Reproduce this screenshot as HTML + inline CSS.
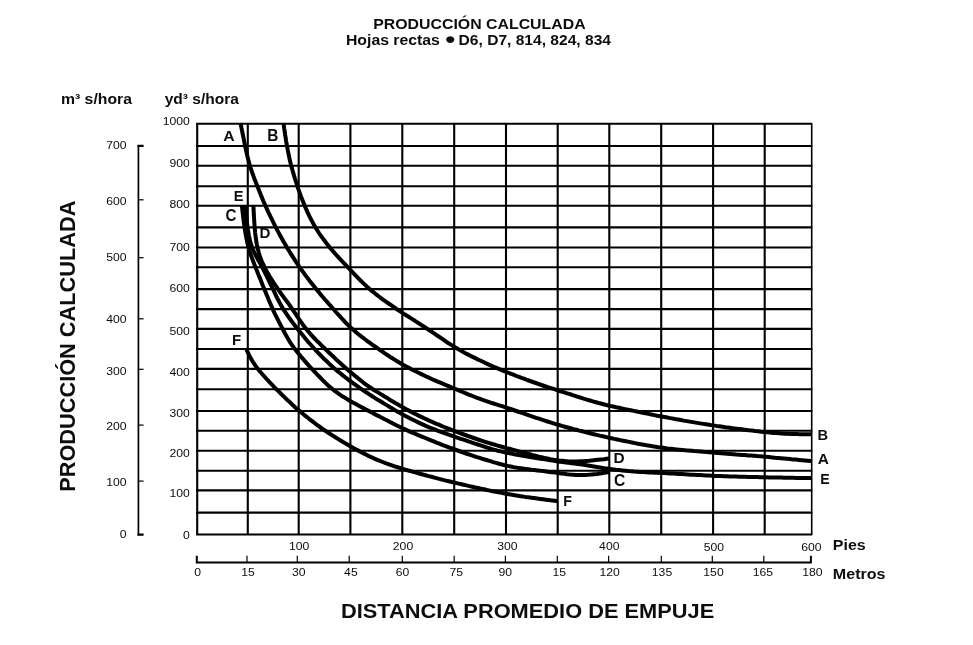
<!DOCTYPE html>
<html lang="es"><head><meta charset="utf-8"><title>Producción calculada</title>
<style>html,body{margin:0;padding:0;background:#fff}svg{display:block}</style></head>
<body>
<svg width="973" height="645" viewBox="0 0 973 645">
<rect width="973" height="645" fill="#fff"/>
<g stroke="#000" fill="none"><line x1="196.15" y1="123.70" x2="812.30" y2="123.70" stroke-width="2.10"/><line x1="196.15" y1="146.00" x2="812.30" y2="146.00" stroke-width="2.10"/><line x1="196.15" y1="165.70" x2="812.30" y2="165.70" stroke-width="2.10"/><line x1="196.15" y1="186.20" x2="812.30" y2="186.20" stroke-width="2.10"/><line x1="196.15" y1="205.70" x2="812.30" y2="205.70" stroke-width="2.10"/><line x1="196.15" y1="227.40" x2="812.30" y2="227.40" stroke-width="2.10"/><line x1="196.15" y1="247.50" x2="812.30" y2="247.50" stroke-width="2.10"/><line x1="196.15" y1="267.30" x2="812.30" y2="267.30" stroke-width="2.10"/><line x1="196.15" y1="289.10" x2="812.30" y2="289.10" stroke-width="2.10"/><line x1="196.15" y1="309.10" x2="812.30" y2="309.10" stroke-width="2.10"/><line x1="196.15" y1="328.90" x2="812.30" y2="328.90" stroke-width="2.10"/><line x1="196.15" y1="349.00" x2="812.30" y2="349.00" stroke-width="2.10"/><line x1="196.15" y1="368.90" x2="812.30" y2="368.90" stroke-width="2.10"/><line x1="196.15" y1="389.30" x2="812.30" y2="389.30" stroke-width="2.10"/><line x1="196.15" y1="411.00" x2="812.30" y2="411.00" stroke-width="2.10"/><line x1="196.15" y1="430.80" x2="812.30" y2="430.80" stroke-width="2.10"/><line x1="196.15" y1="450.70" x2="812.30" y2="450.70" stroke-width="2.10"/><line x1="196.15" y1="470.70" x2="812.30" y2="470.70" stroke-width="2.10"/><line x1="196.15" y1="490.40" x2="812.30" y2="490.40" stroke-width="2.10"/><line x1="196.15" y1="512.60" x2="812.30" y2="512.60" stroke-width="2.10"/><line x1="196.15" y1="534.50" x2="812.30" y2="534.50" stroke-width="2.10"/><line x1="197.20" y1="123.70" x2="197.20" y2="534.50" stroke-width="2.10"/><line x1="247.80" y1="123.70" x2="247.80" y2="534.50" stroke-width="2.10"/><line x1="298.70" y1="123.70" x2="298.70" y2="534.50" stroke-width="2.10"/><line x1="350.40" y1="123.70" x2="350.40" y2="534.50" stroke-width="2.10"/><line x1="402.30" y1="123.70" x2="402.30" y2="534.50" stroke-width="2.10"/><line x1="454.20" y1="123.70" x2="454.20" y2="534.50" stroke-width="2.10"/><line x1="506.00" y1="123.70" x2="506.00" y2="534.50" stroke-width="2.10"/><line x1="557.70" y1="123.70" x2="557.70" y2="534.50" stroke-width="2.10"/><line x1="609.30" y1="123.70" x2="609.30" y2="534.50" stroke-width="2.10"/><line x1="661.20" y1="123.70" x2="661.20" y2="534.50" stroke-width="2.10"/><line x1="713.10" y1="123.70" x2="713.10" y2="534.50" stroke-width="2.10"/><line x1="764.70" y1="123.70" x2="764.70" y2="534.50" stroke-width="2.10"/><line x1="811.70" y1="123.70" x2="811.70" y2="534.50" stroke-width="1.60"/></g>
<g stroke="#000" fill="none"><path d="M138.40 145 V535.6" stroke-width="1.7"/><path d="M137.55 145.9 H143.6 M137.55 534.6 H143.6" stroke-width="2.2"/><line x1="138.40" y1="199.80" x2="143.6" y2="199.80" stroke-width="1.2"/><line x1="138.40" y1="257.70" x2="143.6" y2="257.70" stroke-width="1.2"/><line x1="138.40" y1="318.80" x2="143.6" y2="318.80" stroke-width="1.2"/><line x1="138.40" y1="369.30" x2="143.6" y2="369.30" stroke-width="1.2"/><line x1="138.40" y1="425.10" x2="143.6" y2="425.10" stroke-width="1.2"/><line x1="138.40" y1="481.10" x2="143.6" y2="481.10" stroke-width="1.2"/></g>
<g stroke="#000" fill="none"><path d="M196.8 555.8 V562.40 H810.9 V555.8" stroke-width="2" stroke-linejoin="miter"/><line x1="247.00" y1="555.8" x2="247.00" y2="562.40" stroke-width="1.2"/><line x1="297.30" y1="555.8" x2="297.30" y2="562.40" stroke-width="1.2"/><line x1="349.20" y1="555.8" x2="349.20" y2="562.40" stroke-width="1.2"/><line x1="402.30" y1="555.8" x2="402.30" y2="562.40" stroke-width="1.2"/><line x1="454.20" y1="555.8" x2="454.20" y2="562.40" stroke-width="1.2"/><line x1="505.40" y1="555.8" x2="505.40" y2="562.40" stroke-width="1.2"/><line x1="557.30" y1="555.8" x2="557.30" y2="562.40" stroke-width="1.2"/><line x1="608.60" y1="555.8" x2="608.60" y2="562.40" stroke-width="1.2"/><line x1="661.30" y1="555.8" x2="661.30" y2="562.40" stroke-width="1.2"/><line x1="712.30" y1="555.8" x2="712.30" y2="562.40" stroke-width="1.2"/><line x1="763.80" y1="555.8" x2="763.80" y2="562.40" stroke-width="1.2"/></g>
<g stroke="#000" stroke-width="4.00" fill="none" stroke-linecap="butt" stroke-linejoin="round"><path d="M240.5 123.2 L241.1 126.1 L241.7 129.1 L242.3 132.0 L242.9 135.0 L243.5 137.9 L244.1 140.8 L244.7 143.8 L245.3 146.7 L245.9 149.6 L246.6 152.6 L247.2 155.5 L247.9 158.4 L248.7 161.3 L249.5 164.2 L250.3 167.1 L251.3 169.9 L252.2 172.8 L253.3 175.6 L254.3 178.4 L255.4 181.2 L256.5 184.0 L257.6 186.8 L258.7 189.6 L259.8 192.3 L260.9 195.1 L262.1 197.9 L263.2 200.7 L264.4 203.4 L265.6 206.2 L266.9 208.9 L268.1 211.6 L269.4 214.3 L270.7 217.0 L272.0 219.7 L273.3 222.4 L274.7 225.1 L276.1 227.8 L277.4 230.4 L278.9 233.1 L280.3 235.7 L281.7 238.3 L283.2 241.0 L284.7 243.6 L286.2 246.1 L287.7 248.7 L289.3 251.3 L290.9 253.8 L292.5 256.4 L294.1 258.9 L295.7 261.4 L297.4 263.9 L299.1 266.4 L300.8 268.8 L302.6 271.3 L304.3 273.7 L306.1 276.1 L307.9 278.5 L309.7 280.9 L311.6 283.3 L313.4 285.6 L315.3 288.0 L317.2 290.3 L319.1 292.6 L321.0 294.9 L323.0 297.2 L324.9 299.5 L326.9 301.7 L328.9 304.0 L330.9 306.2 L332.9 308.5 L334.9 310.7 L336.8 313.0 L338.8 315.2 L340.8 317.4 L342.9 319.6 L344.9 321.8 L347.0 324.0 L349.2 326.1 L351.3 328.1 L353.6 330.1 L355.8 332.1 L358.2 334.0 L360.5 335.8 L362.9 337.7 L365.3 339.5 L367.7 341.3 L370.1 343.0 L372.5 344.8 L375.0 346.5 L377.4 348.2 L379.9 350.0 L382.4 351.7 L384.8 353.4 L387.3 355.0 L389.8 356.7 L392.4 358.3 L394.9 359.9 L397.5 361.5 L400.0 363.0 L402.6 364.5 L405.2 366.0 L407.9 367.4 L410.5 368.8 L413.2 370.2 L415.9 371.5 L418.6 372.8 L421.3 374.1 L424.0 375.4 L426.7 376.7 L429.4 377.9 L432.2 379.2 L434.9 380.4 L437.7 381.6 L440.4 382.7 L443.2 383.9 L446.0 385.1 L448.7 386.2 L451.5 387.4 L454.3 388.5 L457.0 389.7 L459.8 390.8 L462.6 392.0 L465.3 393.1 L468.1 394.3 L470.9 395.4 L473.7 396.5 L476.5 397.6 L479.3 398.6 L482.1 399.7 L484.9 400.7 L487.8 401.6 L490.6 402.6 L493.5 403.5 L496.3 404.4 L499.2 405.3 L502.1 406.2 L504.9 407.2 L507.8 408.1 L510.6 409.0 L513.4 410.0 L516.3 411.0 L519.1 412.0 L522.0 412.9 L524.8 413.9 L527.6 414.9 L530.5 415.9 L533.3 416.8 L536.1 417.8 L539.0 418.7 L541.8 419.7 L544.7 420.6 L547.5 421.5 L550.4 422.4 L553.3 423.3 L556.1 424.2 L559.0 425.0 L561.9 425.9 L564.8 426.7 L567.7 427.5 L570.6 428.3 L573.5 429.1 L576.4 429.8 L579.3 430.6 L582.2 431.3 L585.1 432.1 L588.0 432.8 L590.9 433.5 L593.8 434.2 L596.7 434.9 L599.7 435.6 L602.6 436.2 L605.5 436.9 L608.4 437.6 L611.4 438.2 L614.3 438.9 L617.2 439.5 L620.2 440.1 L623.1 440.7 L626.0 441.3 L629.0 441.9 L631.9 442.5 L634.9 443.1 L637.8 443.7 L640.8 444.2 L643.7 444.7 L646.7 445.3 L649.6 445.8 L652.6 446.3 L655.6 446.7 L658.5 447.2 L661.5 447.6 L664.5 448.0 L667.4 448.4 L670.4 448.7 L673.4 449.1 L676.4 449.4 L679.4 449.7 L682.3 450.0 L685.3 450.3 L688.3 450.5 L691.3 450.8 L694.3 451.1 L697.3 451.3 L700.3 451.5 L703.3 451.8 L706.3 452.0 L709.2 452.3 L712.2 452.5 L715.2 452.8 L718.2 453.0 L721.2 453.3 L724.2 453.5 L727.2 453.8 L730.2 454.0 L733.2 454.2 L736.2 454.5 L739.2 454.7 L742.1 454.9 L745.1 455.1 L748.1 455.4 L751.1 455.6 L754.1 455.8 L757.1 456.1 L760.1 456.3 L763.1 456.6 L766.1 456.8 L769.1 457.1 L772.0 457.4 L775.0 457.7 L778.0 457.9 L781.0 458.2 L784.0 458.5 L787.0 458.8 L790.0 459.1 L792.9 459.4 L795.9 459.6 L798.9 459.9 L801.9 460.2 L804.9 460.5 L807.8 460.8 L810.8 461.1 L811.8 461.2"/><path d="M283.5 123.2 L283.9 126.2 L284.3 129.1 L284.8 132.1 L285.2 135.1 L285.7 138.0 L286.1 141.0 L286.6 144.0 L287.2 146.9 L287.7 149.9 L288.3 152.8 L288.9 155.7 L289.5 158.7 L290.2 161.6 L290.9 164.5 L291.7 167.4 L292.5 170.3 L293.3 173.2 L294.2 176.1 L295.0 178.9 L296.0 181.8 L296.9 184.6 L297.8 187.5 L298.8 190.3 L299.8 193.1 L300.8 196.0 L301.9 198.8 L303.0 201.6 L304.1 204.3 L305.3 207.1 L306.5 209.9 L307.7 212.6 L309.0 215.3 L310.3 218.0 L311.7 220.7 L313.1 223.3 L314.5 225.9 L316.1 228.5 L317.7 231.0 L319.3 233.5 L321.0 236.0 L322.8 238.4 L324.6 240.8 L326.4 243.2 L328.3 245.5 L330.2 247.9 L332.1 250.2 L334.1 252.4 L336.1 254.7 L338.1 256.9 L340.1 259.1 L342.2 261.3 L344.2 263.4 L346.3 265.6 L348.4 267.8 L350.4 270.0 L352.5 272.1 L354.6 274.3 L356.6 276.5 L358.7 278.6 L360.8 280.8 L363.0 282.9 L365.1 284.9 L367.3 287.0 L369.6 289.0 L371.8 290.9 L374.2 292.8 L376.5 294.7 L378.9 296.5 L381.3 298.3 L383.7 300.1 L386.2 301.8 L388.6 303.5 L391.1 305.2 L393.6 306.9 L396.0 308.6 L398.5 310.3 L401.0 311.9 L403.5 313.6 L406.1 315.2 L408.6 316.8 L411.1 318.4 L413.7 320.0 L416.2 321.6 L418.7 323.3 L421.2 324.9 L423.8 326.5 L426.3 328.1 L428.8 329.8 L431.3 331.5 L433.8 333.1 L436.2 334.8 L438.7 336.5 L441.2 338.2 L443.7 339.9 L446.1 341.6 L448.6 343.3 L451.2 344.9 L453.7 346.5 L456.3 348.0 L458.9 349.5 L461.5 351.0 L464.1 352.4 L466.8 353.9 L469.4 355.2 L472.1 356.6 L474.8 357.9 L477.5 359.3 L480.2 360.5 L482.9 361.8 L485.6 363.1 L488.3 364.3 L491.1 365.6 L493.8 366.8 L496.6 367.9 L499.3 369.1 L502.1 370.3 L504.9 371.4 L507.7 372.5 L510.5 373.6 L513.3 374.7 L516.1 375.8 L518.9 376.8 L521.7 377.9 L524.5 378.9 L527.3 380.0 L530.1 381.0 L532.9 382.0 L535.8 383.0 L538.6 384.0 L541.4 385.0 L544.3 386.0 L547.1 386.9 L550.0 387.8 L552.8 388.7 L555.7 389.6 L558.6 390.5 L561.4 391.5 L564.3 392.4 L567.1 393.3 L570.0 394.2 L572.8 395.2 L575.7 396.1 L578.5 397.0 L581.4 397.9 L584.3 398.8 L587.1 399.7 L590.0 400.5 L592.9 401.4 L595.8 402.2 L598.7 403.0 L601.6 403.7 L604.5 404.5 L607.4 405.2 L610.3 405.9 L613.2 406.5 L616.2 407.2 L619.1 407.8 L622.0 408.5 L625.0 409.1 L627.9 409.7 L630.8 410.3 L633.8 410.9 L636.7 411.5 L639.6 412.1 L642.6 412.7 L645.5 413.3 L648.5 413.9 L651.4 414.5 L654.4 415.1 L657.3 415.7 L660.2 416.2 L663.2 416.8 L666.1 417.3 L669.1 417.9 L672.0 418.4 L675.0 419.0 L677.9 419.5 L680.9 420.0 L683.8 420.6 L686.8 421.1 L689.8 421.6 L692.7 422.1 L695.7 422.6 L698.6 423.1 L701.6 423.6 L704.6 424.1 L707.5 424.5 L710.5 425.0 L713.4 425.4 L716.4 425.9 L719.4 426.3 L722.4 426.7 L725.3 427.2 L728.3 427.6 L731.3 428.0 L734.2 428.4 L737.2 428.8 L740.2 429.1 L743.2 429.5 L746.1 429.9 L749.1 430.3 L752.1 430.6 L755.1 431.0 L758.1 431.3 L761.0 431.7 L764.0 432.0 L767.0 432.3 L770.0 432.6 L773.0 432.9 L776.0 433.1 L779.0 433.3 L781.9 433.5 L784.9 433.7 L787.9 433.8 L790.9 434.0 L793.9 434.0 L796.9 434.1 L799.9 434.2 L802.9 434.2 L805.9 434.2 L808.8 434.2 L811.8 434.2"/><path d="M241.8 205.5 L242.2 208.5 L242.5 211.5 L242.9 214.4 L243.2 217.4 L243.6 220.4 L244.0 223.4 L244.4 226.3 L244.9 229.3 L245.3 232.3 L245.8 235.2 L246.4 238.2 L247.0 241.1 L247.6 244.0 L248.4 246.9 L249.2 249.8 L250.1 252.7 L251.0 255.5 L252.1 258.3 L253.1 261.1 L254.2 263.9 L255.3 266.7 L256.4 269.5 L257.5 272.3 L258.6 275.1 L259.8 277.9 L260.9 280.6 L262.0 283.4 L263.1 286.2 L264.3 289.0 L265.4 291.8 L266.5 294.5 L267.7 297.3 L268.8 300.1 L270.0 302.8 L271.2 305.6 L272.4 308.3 L273.6 311.1 L274.9 313.8 L276.2 316.5 L277.6 319.2 L278.9 321.8 L280.3 324.5 L281.7 327.2 L283.1 329.8 L284.5 332.5 L285.9 335.1 L287.4 337.7 L288.9 340.3 L290.5 342.8 L292.2 345.3 L293.9 347.7 L295.7 350.1 L297.6 352.5 L299.5 354.8 L301.4 357.1 L303.4 359.4 L305.3 361.6 L307.3 363.9 L309.3 366.1 L311.4 368.3 L313.4 370.5 L315.5 372.7 L317.5 374.8 L319.6 377.0 L321.7 379.2 L323.8 381.3 L326.0 383.4 L328.2 385.4 L330.4 387.4 L332.7 389.3 L335.1 391.2 L337.5 392.9 L339.9 394.6 L342.4 396.3 L345.0 397.8 L347.6 399.4 L350.2 400.9 L352.8 402.4 L355.4 403.8 L358.0 405.3 L360.6 406.7 L363.3 408.1 L365.9 409.5 L368.6 410.9 L371.3 412.3 L373.9 413.7 L376.6 415.1 L379.3 416.4 L381.9 417.8 L384.6 419.2 L387.3 420.5 L389.9 421.9 L392.6 423.3 L395.3 424.7 L397.9 426.0 L400.6 427.3 L403.4 428.6 L406.1 429.8 L408.8 431.1 L411.6 432.3 L414.3 433.4 L417.1 434.6 L419.9 435.8 L422.6 436.9 L425.4 438.0 L428.2 439.2 L431.0 440.3 L433.7 441.4 L436.5 442.6 L439.3 443.7 L442.1 444.8 L444.9 445.8 L447.7 446.9 L450.5 448.0 L453.3 449.0 L456.2 450.0 L459.0 451.0 L461.8 452.0 L464.7 453.0 L467.5 454.0 L470.3 454.9 L473.2 455.8 L476.0 456.8 L478.9 457.7 L481.8 458.6 L484.6 459.5 L487.5 460.3 L490.4 461.2 L493.2 462.1 L496.1 462.9 L499.0 463.7 L501.9 464.5 L504.8 465.2 L507.7 465.9 L510.7 466.5 L513.6 467.1 L516.6 467.6 L519.5 468.1 L522.5 468.5 L525.5 468.9 L528.4 469.3 L531.4 469.7 L534.4 470.0 L537.4 470.4 L540.3 470.8 L543.3 471.1 L546.3 471.5 L549.3 471.9 L552.3 472.2 L555.2 472.6 L558.2 473.0 L561.2 473.4 L564.1 473.8 L567.1 474.2 L570.1 474.5 L573.1 474.7 L576.1 474.9 L579.1 475.0 L582.1 475.0 L585.0 474.9 L588.0 474.8 L591.0 474.6 L594.0 474.3 L597.0 474.0 L599.9 473.6 L602.8 473.1 L605.6 472.6 L608.5 472.2 L609.4 472.0"/><path d="M245.2 205.5 L245.5 208.5 L245.8 211.5 L246.1 214.5 L246.4 217.4 L246.7 220.4 L247.1 223.4 L247.5 226.4 L247.9 229.3 L248.4 232.3 L248.9 235.3 L249.5 238.2 L250.1 241.1 L251.0 244.0 L251.9 246.8 L253.0 249.6 L254.2 252.3 L255.5 255.0 L256.9 257.6 L258.3 260.2 L259.8 262.9 L261.2 265.5 L262.6 268.1 L264.0 270.8 L265.3 273.5 L266.7 276.2 L268.0 278.9 L269.3 281.6 L270.6 284.3 L271.9 287.0 L273.2 289.7 L274.5 292.4 L275.8 295.1 L277.1 297.8 L278.5 300.5 L279.9 303.1 L281.3 305.7 L282.8 308.3 L284.4 310.9 L286.1 313.4 L287.8 315.8 L289.5 318.3 L291.3 320.7 L293.1 323.1 L294.9 325.4 L296.8 327.8 L298.6 330.2 L300.5 332.5 L302.4 334.8 L304.3 337.2 L306.2 339.5 L308.1 341.8 L310.1 344.0 L312.1 346.3 L314.1 348.5 L316.1 350.7 L318.2 352.9 L320.3 355.0 L322.4 357.1 L324.5 359.3 L326.7 361.3 L328.9 363.4 L331.1 365.4 L333.3 367.5 L335.5 369.4 L337.8 371.4 L340.2 373.3 L342.5 375.1 L344.9 377.0 L347.3 378.8 L349.6 380.6 L352.0 382.4 L354.5 384.2 L356.9 385.9 L359.3 387.7 L361.8 389.4 L364.3 391.1 L366.8 392.7 L369.3 394.4 L371.8 396.0 L374.4 397.6 L376.9 399.2 L379.5 400.7 L382.0 402.3 L384.6 403.9 L387.1 405.4 L389.7 407.0 L392.3 408.5 L394.9 410.1 L397.4 411.6 L400.1 413.0 L402.7 414.5 L405.3 415.9 L408.0 417.3 L410.7 418.7 L413.3 420.0 L416.0 421.3 L418.7 422.6 L421.5 423.9 L424.2 425.1 L426.9 426.3 L429.7 427.5 L432.5 428.6 L435.3 429.7 L438.1 430.8 L440.9 431.8 L443.7 432.8 L446.5 433.8 L449.4 434.8 L452.2 435.8 L455.0 436.8 L457.9 437.8 L460.7 438.8 L463.5 439.7 L466.4 440.7 L469.2 441.7 L472.1 442.6 L474.9 443.6 L477.8 444.5 L480.6 445.4 L483.5 446.4 L486.3 447.3 L489.2 448.2 L492.0 449.1 L494.9 449.9 L497.8 450.7 L500.7 451.4 L503.6 452.1 L506.6 452.7 L509.5 453.3 L512.4 453.9 L515.4 454.5 L518.4 455.0 L521.3 455.5 L524.3 456.0 L527.2 456.5 L530.2 457.0 L533.1 457.5 L536.1 458.0 L539.1 458.5 L542.0 458.9 L545.0 459.4 L547.9 459.9 L550.9 460.3 L553.9 460.8 L556.8 461.2 L559.8 461.7 L562.8 462.1 L565.8 462.5 L568.7 462.8 L571.7 463.2 L574.7 463.5 L577.7 463.9 L580.6 464.3 L583.6 464.8 L586.6 465.2 L589.5 465.7 L592.5 466.2 L595.4 466.7 L598.4 467.2 L601.4 467.7 L604.3 468.2 L607.3 468.6 L610.3 469.0 L613.2 469.4 L616.2 469.8 L619.2 470.1 L622.2 470.4 L625.2 470.7 L628.2 471.0 L631.1 471.2 L634.1 471.5 L637.1 471.7 L640.1 471.9 L643.1 472.1 L646.1 472.3 L649.1 472.4 L652.1 472.5 L655.1 472.7 L658.1 472.8 L661.1 472.9 L664.1 473.1 L667.1 473.2 L670.1 473.4 L673.1 473.6 L676.1 473.8 L679.1 473.9 L682.0 474.1 L685.0 474.3 L688.0 474.5 L691.0 474.7 L694.0 474.8 L697.0 475.0 L700.0 475.1 L703.0 475.3 L706.0 475.5 L709.0 475.6 L712.0 475.7 L715.0 475.9 L718.0 476.0 L721.0 476.1 L724.0 476.2 L727.0 476.3 L730.0 476.4 L733.0 476.5 L736.0 476.6 L739.0 476.7 L742.0 476.8 L745.0 476.8 L748.0 476.9 L751.0 477.0 L754.0 477.1 L757.0 477.1 L760.0 477.2 L763.0 477.3 L766.0 477.3 L769.0 477.4 L772.0 477.4 L775.0 477.5 L778.0 477.6 L781.0 477.6 L784.0 477.7 L787.0 477.7 L790.0 477.8 L793.0 477.8 L796.0 477.9 L799.0 477.9 L801.9 478.0 L804.9 478.0 L807.9 478.0 L810.8 478.1 L811.8 478.1"/><path d="M253.4 205.5 L253.5 208.5 L253.7 211.5 L253.8 214.5 L254.0 217.5 L254.2 220.5 L254.4 223.5 L254.6 226.5 L254.9 229.5 L255.1 232.4 L255.5 235.4 L255.8 238.4 L256.3 241.4 L256.8 244.3 L257.4 247.2 L258.1 250.1 L258.9 253.0 L259.8 255.9 L260.8 258.7 L261.9 261.5 L263.1 264.2 L264.4 266.9 L265.7 269.6 L267.2 272.2 L268.7 274.8 L270.2 277.4 L271.8 279.9 L273.4 282.4 L275.1 284.9 L276.8 287.4 L278.5 289.9 L280.2 292.3 L282.0 294.8 L283.7 297.2 L285.5 299.6 L287.3 302.0 L289.1 304.4 L290.8 306.9 L292.5 309.3 L294.2 311.8 L295.9 314.3 L297.5 316.8 L299.2 319.3 L300.9 321.8 L302.6 324.2 L304.4 326.6 L306.2 329.0 L308.1 331.3 L310.1 333.6 L312.1 335.8 L314.2 338.0 L316.2 340.1 L318.4 342.2 L320.5 344.4 L322.6 346.5 L324.8 348.5 L326.9 350.6 L329.1 352.7 L331.3 354.8 L333.5 356.8 L335.7 358.9 L337.9 360.9 L340.1 362.9 L342.3 364.9 L344.5 366.9 L346.8 368.9 L349.1 370.9 L351.4 372.8 L353.7 374.7 L356.0 376.6 L358.3 378.5 L360.6 380.4 L363.0 382.3 L365.4 384.1 L367.8 385.8 L370.3 387.5 L372.8 389.2 L375.3 390.8 L377.9 392.4 L380.4 393.9 L383.0 395.5 L385.5 397.1 L388.1 398.6 L390.6 400.2 L393.2 401.7 L395.8 403.3 L398.4 404.8 L401.0 406.3 L403.6 407.7 L406.2 409.2 L408.9 410.6 L411.5 412.0 L414.2 413.4 L416.9 414.7 L419.6 416.1 L422.3 417.4 L425.0 418.7 L427.7 419.9 L430.4 421.2 L433.2 422.4 L435.9 423.6 L438.7 424.7 L441.4 425.9 L444.2 427.0 L447.0 428.1 L449.8 429.2 L452.6 430.3 L455.4 431.3 L458.2 432.4 L461.0 433.5 L463.8 434.5 L466.7 435.5 L469.5 436.5 L472.3 437.5 L475.1 438.5 L478.0 439.5 L480.8 440.4 L483.7 441.4 L486.5 442.3 L489.4 443.1 L492.3 444.0 L495.2 444.8 L498.0 445.7 L500.9 446.5 L503.8 447.3 L506.7 448.1 L509.6 448.8 L512.5 449.6 L515.4 450.4 L518.3 451.2 L521.2 451.9 L524.1 452.7 L527.0 453.5 L529.9 454.3 L532.8 455.1 L535.7 455.8 L538.6 456.6 L541.5 457.2 L544.5 457.9 L547.4 458.5 L550.3 459.1 L553.3 459.6 L556.2 460.1 L559.2 460.5 L562.2 460.8 L565.2 461.1 L568.2 461.3 L571.1 461.4 L574.1 461.5 L577.1 461.4 L580.1 461.3 L583.1 461.2 L586.1 460.9 L589.1 460.7 L592.1 460.4 L595.1 460.1 L598.0 459.8 L600.9 459.5 L603.8 459.2 L606.6 458.8 L609.4 458.5"/><path d="M246.5 349.5 L247.7 352.2 L249.0 354.9 L250.4 357.6 L251.9 360.2 L253.4 362.7 L255.1 365.2 L256.9 367.6 L258.7 369.9 L260.6 372.2 L262.6 374.5 L264.6 376.8 L266.6 379.0 L268.6 381.2 L270.7 383.4 L272.8 385.5 L274.8 387.7 L277.0 389.8 L279.1 391.9 L281.2 394.0 L283.4 396.1 L285.5 398.2 L287.7 400.3 L289.9 402.3 L292.1 404.4 L294.3 406.4 L296.5 408.4 L298.8 410.4 L301.1 412.3 L303.4 414.2 L305.7 416.1 L308.1 418.0 L310.4 419.8 L312.8 421.6 L315.2 423.5 L317.6 425.3 L320.0 427.0 L322.5 428.8 L324.9 430.5 L327.4 432.2 L329.9 433.8 L332.4 435.4 L335.0 437.0 L337.5 438.6 L340.1 440.2 L342.6 441.8 L345.2 443.3 L347.8 444.8 L350.4 446.3 L353.0 447.8 L355.6 449.2 L358.3 450.6 L360.9 452.0 L363.6 453.4 L366.3 454.7 L369.0 456.1 L371.7 457.3 L374.4 458.6 L377.2 459.8 L379.9 460.9 L382.7 462.0 L385.5 463.1 L388.3 464.1 L391.2 465.1 L394.0 466.1 L396.9 467.0 L399.7 467.9 L402.6 468.8 L405.5 469.7 L408.3 470.5 L411.2 471.3 L414.1 472.1 L417.0 472.9 L419.9 473.7 L422.8 474.5 L425.7 475.3 L428.6 476.1 L431.5 476.8 L434.4 477.6 L437.3 478.4 L440.2 479.1 L443.1 479.9 L446.0 480.6 L448.9 481.3 L451.8 482.0 L454.8 482.7 L457.7 483.4 L460.6 484.0 L463.5 484.7 L466.5 485.4 L469.4 486.1 L472.3 486.7 L475.2 487.4 L478.2 488.0 L481.1 488.7 L484.0 489.3 L487.0 490.0 L489.9 490.6 L492.8 491.2 L495.8 491.8 L498.7 492.4 L501.6 492.9 L504.6 493.5 L507.5 494.0 L510.5 494.5 L513.5 495.0 L516.4 495.5 L519.4 496.0 L522.4 496.4 L525.3 496.9 L528.3 497.3 L531.3 497.7 L534.2 498.1 L537.2 498.5 L540.2 498.9 L543.1 499.3 L546.1 499.7 L549.0 500.1 L552.0 500.4 L554.8 500.8 L557.7 501.2"/></g>
<g fill="#0d0d0d" font-family='"Liberation Sans", Arial, Helvetica, sans-serif'><text transform="translate(373.25 28.50) scale(1.1106 1)" font-size="14.29" font-weight="700">PRODUCCIÓN CALCULADA</text>
<text transform="translate(345.95 45.00) scale(1.0848 1)" font-size="14.57" font-weight="700">Hojas rectas</text>
<text transform="translate(444.47 44.30) scale(1.2238 1)" font-size="15.60" font-weight="700">●</text>
<text transform="translate(458.56 45.00) scale(1.0701 1)" font-size="14.57" font-weight="700">D6, D7, 814, 824, 834</text>
<text transform="translate(60.95 103.90) scale(1.0868 1)" font-size="14.52" font-weight="700">m³ s/hora</text>
<text transform="translate(164.70 103.90) scale(1.0691 1)" font-size="14.52" font-weight="700">yd³ s/hora</text>
<text transform="translate(340.99 618.40) scale(1.0613 1)" font-size="20.57" font-weight="700">DISTANCIA PROMEDIO DE EMPUJE</text>
<text transform="translate(832.84 550.40) scale(1.1132 1)" font-size="14.38" font-weight="700">Pies</text>
<text transform="translate(832.83 579.10) scale(1.0526 1)" font-size="15.29" font-weight="700">Metros</text>
<text transform="translate(223.19 140.60) scale(1.0199 1)" font-size="15.43" font-weight="700">A</text>
<text transform="translate(267.37 140.60) scale(0.9892 1)" font-size="15.65" font-weight="700">B</text>
<text transform="translate(233.73 201.40) scale(0.9661 1)" font-size="15.07" font-weight="700">E</text>
<text transform="translate(225.39 220.80) scale(0.9642 1)" font-size="15.71" font-weight="700">C</text>
<text transform="translate(259.60 238.00) scale(1.0005 1)" font-size="15.07" font-weight="700">D</text>
<text transform="translate(232.10 344.80) scale(0.9857 1)" font-size="15.22" font-weight="700">F</text>
<text transform="translate(817.52 439.50) scale(0.9465 1)" font-size="15.51" font-weight="700">B</text>
<text transform="translate(817.79 464.40) scale(0.9916 1)" font-size="15.57" font-weight="700">A</text>
<text transform="translate(820.15 483.90) scale(0.9164 1)" font-size="15.51" font-weight="700">E</text>
<text transform="translate(613.38 463.40) scale(1.0215 1)" font-size="15.07" font-weight="700">D</text>
<text transform="translate(614.08 485.70) scale(0.9931 1)" font-size="15.71" font-weight="700">C</text>
<text transform="translate(563.15 506.30) scale(0.9533 1)" font-size="14.93" font-weight="700">F</text>
<text transform="translate(162.71 125.30) scale(1.0700 1)" font-size="11.40">1000</text>
<text transform="translate(169.49 166.70) scale(1.0700 1)" font-size="11.40">900</text>
<text transform="translate(169.49 208.10) scale(1.0700 1)" font-size="11.40">800</text>
<text transform="translate(169.49 250.60) scale(1.0700 1)" font-size="11.40">700</text>
<text transform="translate(169.49 291.90) scale(1.0700 1)" font-size="11.40">600</text>
<text transform="translate(169.49 334.60) scale(1.0700 1)" font-size="11.40">500</text>
<text transform="translate(169.49 375.80) scale(1.0700 1)" font-size="11.40">400</text>
<text transform="translate(169.49 416.80) scale(1.0700 1)" font-size="11.40">300</text>
<text transform="translate(169.49 456.80) scale(1.0700 1)" font-size="11.40">200</text>
<text transform="translate(169.49 496.50) scale(1.0700 1)" font-size="11.40">100</text>
<text transform="translate(183.06 538.90) scale(1.0700 1)" font-size="11.40">0</text>
<text transform="translate(106.29 149.00) scale(1.0700 1)" font-size="11.40">700</text>
<text transform="translate(106.29 205.30) scale(1.0700 1)" font-size="11.40">600</text>
<text transform="translate(106.29 261.30) scale(1.0700 1)" font-size="11.40">500</text>
<text transform="translate(106.29 322.60) scale(1.0700 1)" font-size="11.40">400</text>
<text transform="translate(106.29 374.80) scale(1.0700 1)" font-size="11.40">300</text>
<text transform="translate(106.29 429.80) scale(1.0700 1)" font-size="11.40">200</text>
<text transform="translate(106.29 485.60) scale(1.0700 1)" font-size="11.40">100</text>
<text transform="translate(119.86 537.70) scale(1.0700 1)" font-size="11.40">0</text>
<text transform="translate(288.92 549.70) scale(1.0700 1)" font-size="11.40">100</text>
<text transform="translate(392.84 549.70) scale(1.0700 1)" font-size="11.40">200</text>
<text transform="translate(497.26 549.70) scale(1.0700 1)" font-size="11.40">300</text>
<text transform="translate(599.12 549.70) scale(1.0700 1)" font-size="11.40">400</text>
<text transform="translate(703.70 550.50) scale(1.0700 1)" font-size="11.40">500</text>
<text transform="translate(801.24 550.50) scale(1.0700 1)" font-size="11.40">600</text>
<text transform="translate(194.25 576.40) scale(1.0700 1)" font-size="11.40">0</text>
<text transform="translate(241.31 576.40) scale(1.0700 1)" font-size="11.40">15</text>
<text transform="translate(291.95 576.40) scale(1.0700 1)" font-size="11.40">30</text>
<text transform="translate(344.11 576.40) scale(1.0700 1)" font-size="11.40">45</text>
<text transform="translate(395.83 576.40) scale(1.0700 1)" font-size="11.40">60</text>
<text transform="translate(449.43 576.40) scale(1.0700 1)" font-size="11.40">75</text>
<text transform="translate(498.59 576.40) scale(1.0700 1)" font-size="11.40">90</text>
<text transform="translate(552.41 576.40) scale(1.0700 1)" font-size="11.40">15</text>
<text transform="translate(599.42 576.40) scale(1.0700 1)" font-size="11.40">120</text>
<text transform="translate(651.82 576.40) scale(1.0700 1)" font-size="11.40">135</text>
<text transform="translate(703.32 576.40) scale(1.0700 1)" font-size="11.40">150</text>
<text transform="translate(752.72 576.40) scale(1.0700 1)" font-size="11.40">165</text>
<text transform="translate(802.22 576.40) scale(1.0700 1)" font-size="11.40">180</text>
<text transform="translate(75.10 491.81) rotate(-90) scale(0.9958 1)" font-size="21.86" font-weight="700">PRODUCCIÓN CALCULADA</text></g>
</svg>
</body></html>
